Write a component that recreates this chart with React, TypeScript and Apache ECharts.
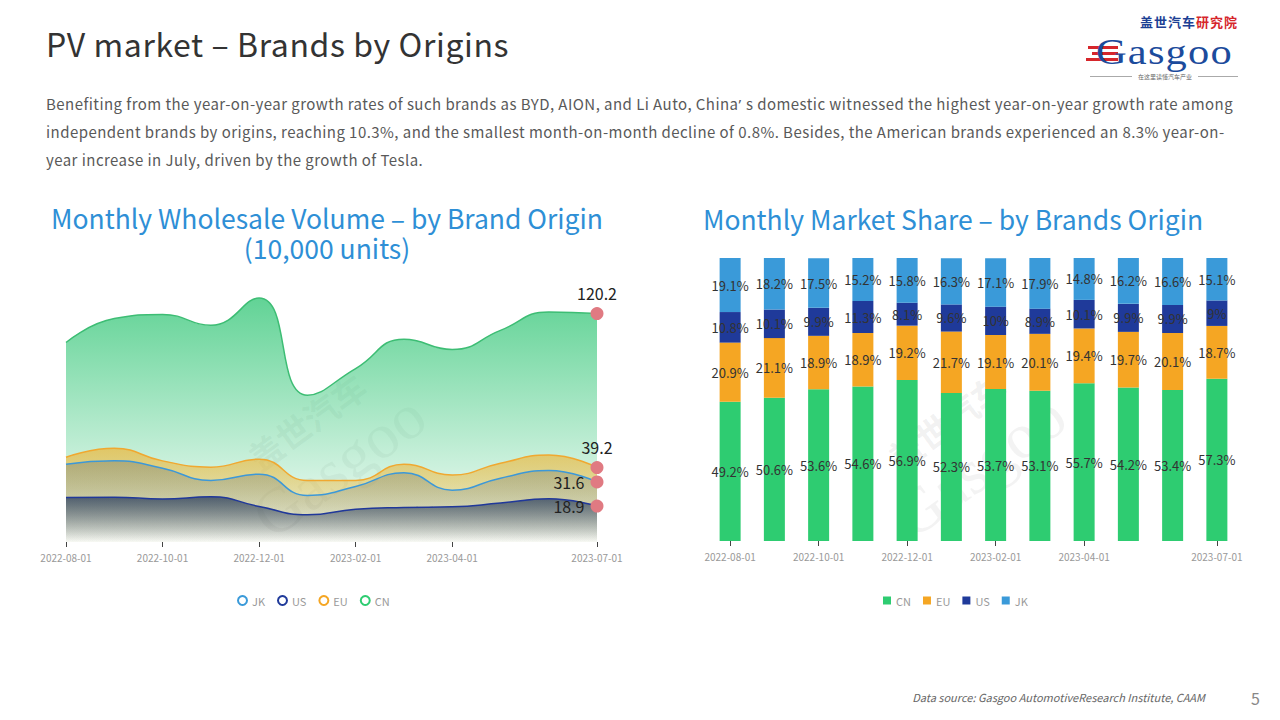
import React, { useEffect, useRef } from "react";
import * as echarts from "echarts";

const months = [
  "2022-08-01", "2022-09-01", "2022-10-01", "2022-11-01", "2022-12-01", "2023-01-01",
  "2023-02-01", "2023-03-01", "2023-04-01", "2023-05-01", "2023-06-01", "2023-07-01",
];
const shownLabels = [0, 2, 4, 6, 8, 11];

const cnVolume = [105.0, 117.6, 119.8, 114.1, 128.4, 77.3, 91.3, 106.7, 101.3, 111.4, 121.1, 120.2];
const euVolume = [44.6, 49.3, 42.7, 39.4, 43.6, 32.4, 32.4, 40.9, 35.3, 41.5, 45.8, 39.2];
const jkVolume = [40.9, 42.7, 38.8, 32.4, 35.7, 24.5, 29.2, 36.4, 27.3, 33.6, 37.6, 31.6];
const usVolume = [23.4, 23.6, 22.6, 23.8, 18.7, 14.3, 17.3, 18.2, 18.5, 20.5, 22.7, 18.9];

const cnShare = [49.2, 50.6, 53.6, 54.6, 56.9, 52.3, 53.7, 53.1, 55.7, 54.2, 53.4, 57.3];
const euShare = [20.9, 21.1, 18.9, 18.9, 19.2, 21.7, 19.1, 20.1, 19.4, 19.7, 20.1, 18.7];
const usShare = [10.8, 10.1, 9.9, 11.3, 8.1, 9.6, 10, 8.9, 10.1, 9.9, 9.9, 9];
const jkShare = [19.1, 18.2, 17.5, 15.2, 15.8, 16.3, 17.1, 17.9, 14.8, 16.2, 16.6, 15.1];

const FONT = "'Noto Sans CJK SC', 'Noto Sans', sans-serif";
const C_CN = "#2ecc71";
const C_EU = "#f5a623";
const C_US = "#1f3a9a";
const C_JK = "#3a9ad9";

function grad(top: string, bottom: string) {
  return new echarts.graphic.LinearGradient(0, 0, 0, 1, [
    { offset: 0, color: top },
    { offset: 1, color: bottom },
  ]);
}

function endData(values: number[], pos: string) {
  return values.map((v, i) =>
    i === values.length - 1
      ? {
          value: v,
          symbol: "circle",
          symbolSize: 13,
          itemStyle: { color: "#e07a82" },
          label: {
            show: true,
            position: pos,
            distance: 6,
            color: "#222",
            fontSize: 16,
            fontFamily: FONT,
            formatter: "{c}",
          },
        }
      : { value: v }
  );
}

export default function App() {
  const ref = useRef<HTMLDivElement>(null);

  useEffect(() => {
    if (!ref.current) return;
    const chart = echarts.init(ref.current, null, { renderer: "svg" });
    const labelFilter = (i: number) => shownLabels.includes(i);

    const lineSeries = (
      name: string,
      data: number[],
      color: string,
      lineColor: string,
      area: any,
      pos: string
    ) => ({
      name,
      type: "line",
      xAxisIndex: 0,
      yAxisIndex: 0,
      smooth: true,
      symbol: "none",
      showSymbol: true,
      data: endData(data, pos),
      itemStyle: { color },
      lineStyle: { color: lineColor, width: 1.5 },
      areaStyle: { color: area, opacity: 1 },
    });

    const barSeries = (name: string, data: number[], color: string) => ({
      name,
      type: "bar",
      stack: "share",
      xAxisIndex: 1,
      yAxisIndex: 1,
      barWidth: 21,
      data,
      itemStyle: { color },
      label: {
        show: true,
        position: "inside",
        formatter: "{c}%",
        color: "#333",
        fontSize: 13,
        fontFamily: FONT,
      },
    });

    const titleText = (text: string, x: number, y: number) => ({
      type: "text",
      x,
      y,
      style: {
        text,
        fill: "#2e8fd6",
        font: `26.5px ${FONT}`,
        lineHeight: 30,
        textAlign: "center",
        textVerticalAlign: "middle",
      },
    });

    const watermark = (x: number, y: number) => ({
      type: "group",
      x,
      y,
      rotation: Math.PI / 5,
      silent: true,
      z: 100,
      children: [
        {
          type: "text",
          x: 0,
          y: -40,
          style: { text: "盖世汽车", fill: "rgba(120,120,120,0.11)", font: `bold 34px ${FONT}`, textAlign: "center" },
        },
        {
          type: "text",
          x: 0,
          y: 0,
          style: { text: "Gasgoo", fill: "rgba(120,120,120,0.09)", font: `64px 'Liberation Serif', serif`, textAlign: "center" },
        },
      ],
    });

    chart.setOption({
      animation: false,
      textStyle: { fontFamily: FONT },
      grid: [
        { left: 66, right: 683, top: 276, bottom: 178 },
        { left: 708, right: 41, top: 258, bottom: 179 },
      ],
      xAxis: [
        {
          gridIndex: 0,
          type: "category",
          data: months,
          boundaryGap: false,
          axisLine: { show: false },
          axisTick: { show: true, interval: labelFilter, length: 5, lineStyle: { color: "#444" } },
          axisLabel: { interval: labelFilter, color: "#999", fontSize: 10, margin: 10 },
        },
        {
          gridIndex: 1,
          type: "category",
          data: months,
          boundaryGap: true,
          axisLine: { show: false },
          axisTick: {
            show: true,
            alignWithLabel: true,
            interval: labelFilter,
            length: 5,
            lineStyle: { color: "#444" },
          },
          axisLabel: { interval: labelFilter, color: "#999", fontSize: 10, margin: 10 },
        },
      ],
      yAxis: [
        { gridIndex: 0, type: "value", min: 0, max: 140, show: false },
        { gridIndex: 1, type: "value", min: 0, max: 100, show: false },
      ],
      legend: [
        {
          data: ["JK", "US", "EU", "CN"],
          left: 232,
          top: 590,
          icon: "emptyCircle",
          itemWidth: 9,
          itemHeight: 9,
          itemGap: 12,
          itemStyle: { borderWidth: 3 },
          textStyle: { color: "#999", fontSize: 11 },
        },
        {
          data: ["CN", "EU", "US", "JK"],
          left: 878,
          top: 590,
          icon: "rect",
          itemWidth: 8,
          itemHeight: 8,
          itemGap: 12,
          textStyle: { color: "#999", fontSize: 11 },
        },
      ],
      graphic: [
        titleText("Monthly Wholesale Volume – by Brand Origin\n(10,000 units)", 327, 232),
        titleText("Monthly Market Share – by Brands Origin", 953, 218),
        watermark(320, 440),
        watermark(960, 440),
      ],
      series: [
        lineSeries("CN", cnVolume, C_CN, "#3dbd74", grad("rgba(80,206,138,0.9)", "rgba(80,206,138,0.02)"), "top"),
        lineSeries("EU", euVolume, C_EU, "#f0a830", grad("rgba(240,180,50,0.68)", "rgba(240,180,50,0.03)"), "top"),
        lineSeries("JK", jkVolume, C_JK, "#3c98d8", grad("rgba(90,110,120,0.35)", "rgba(90,110,120,0.02)"), "left"),
        lineSeries("US", usVolume, C_US, "#20389a", grad("rgba(40,60,95,0.75)", "rgba(40,60,95,0.0)"), "left"),
        barSeries("CN", cnShare, C_CN),
        barSeries("EU", euShare, C_EU),
        barSeries("US", usShare, C_US),
        barSeries("JK", jkShare, C_JK),
      ],
    });

    return () => chart.dispose();
  }, []);

  return (
    <div
      style={{
        position: "fixed",
        left: 0,
        top: 0,
        width: 1280,
        height: 720,
        background: "#fff",
        overflow: "hidden",
        fontFamily: FONT,
      }}
    >
      <div
        style={{
          position: "absolute",
          left: 46,
          top: 19,
          fontSize: 32,
          lineHeight: "48px",
          letterSpacing: "0.6px",
          color: "#333",
          fontWeight: 400,
          whiteSpace: "nowrap",
        }}
      >
        PV market – Brands by Origins
      </div>
      <div
        style={{
          position: "absolute",
          left: 46,
          top: 90,
          fontSize: 15,
          lineHeight: "28px",
          letterSpacing: "0.45px",
          color: "#595959",
          whiteSpace: "nowrap",
        }}
      >
        <div>
          Benefiting from the year-on-year growth rates of such brands as BYD, AION, and Li Auto, China
          <span style={{ fontFamily: "'Noto Sans', sans-serif" }}>’ </span>
          s domestic witnessed the highest year-on-year growth rate among
        </div>
        <div>
          independent brands by origins, reaching 10.3%, and the smallest month-on-month decline of 0.8%. Besides, the American brands experienced an 8.3% year-on-
        </div>
        <div>year increase in July, driven by the growth of Tesla.</div>
      </div>

      {/* Logo */}
      <div
        style={{
          position: "absolute",
          left: 1140,
          top: 15,
          fontSize: 13,
          lineHeight: "13px",
          fontWeight: 700,
          letterSpacing: "1px",
          whiteSpace: "nowrap",
        }}
      >
        <span style={{ color: "#1c3f94" }}>盖世汽车</span>
        <span style={{ color: "#d6262b" }}>研究院</span>
      </div>
      <div style={{ position: "absolute", left: 1088, top: 46, width: 30, height: 3, background: "#d6262b" }} />
      <div style={{ position: "absolute", left: 1092, top: 52, width: 26, height: 3, background: "#d6262b" }} />
      <div style={{ position: "absolute", left: 1086, top: 58, width: 32, height: 3, background: "#d6262b" }} />
      <div
        style={{
          position: "absolute",
          left: 1096,
          top: 33,
          fontSize: 36,
          lineHeight: "38px",
          color: "#1c4b9c",
          fontFamily: "'Liberation Serif', 'DejaVu Serif', serif",
          whiteSpace: "nowrap",
          letterSpacing: "1px",
          transform: "scaleX(1.18)",
          transformOrigin: "left center",
        }}
      >
        Gasgoo
      </div>
      <div style={{ position: "absolute", left: 1090, top: 76, width: 42, height: 1, background: "#aaa" }} />
      <div style={{ position: "absolute", left: 1198, top: 76, width: 40, height: 1, background: "#aaa" }} />
      <div
        style={{
          position: "absolute",
          left: 1135,
          top: 73,
          width: 60,
          textAlign: "center",
          fontSize: 6,
          lineHeight: "7px",
          color: "#666",
          whiteSpace: "nowrap",
        }}
      >
        在这里读懂汽车产业
      </div>

      <div
        ref={ref}
        style={{ position: "absolute", left: 0, top: 0, width: 1280, height: 720 }}
      />

      <div
        style={{
          position: "absolute",
          right: 75,
          top: 689,
          fontSize: 11,
          fontStyle: "italic",
          color: "#666",
          whiteSpace: "nowrap",
        }}
      >
        Data source: Gasgoo AutomotiveResearch Institute, CAAM
      </div>
      <div
        style={{ position: "absolute", left: 1251, top: 686, fontSize: 16, color: "#888" }}
      >
        5
      </div>
    </div>
  );
}
